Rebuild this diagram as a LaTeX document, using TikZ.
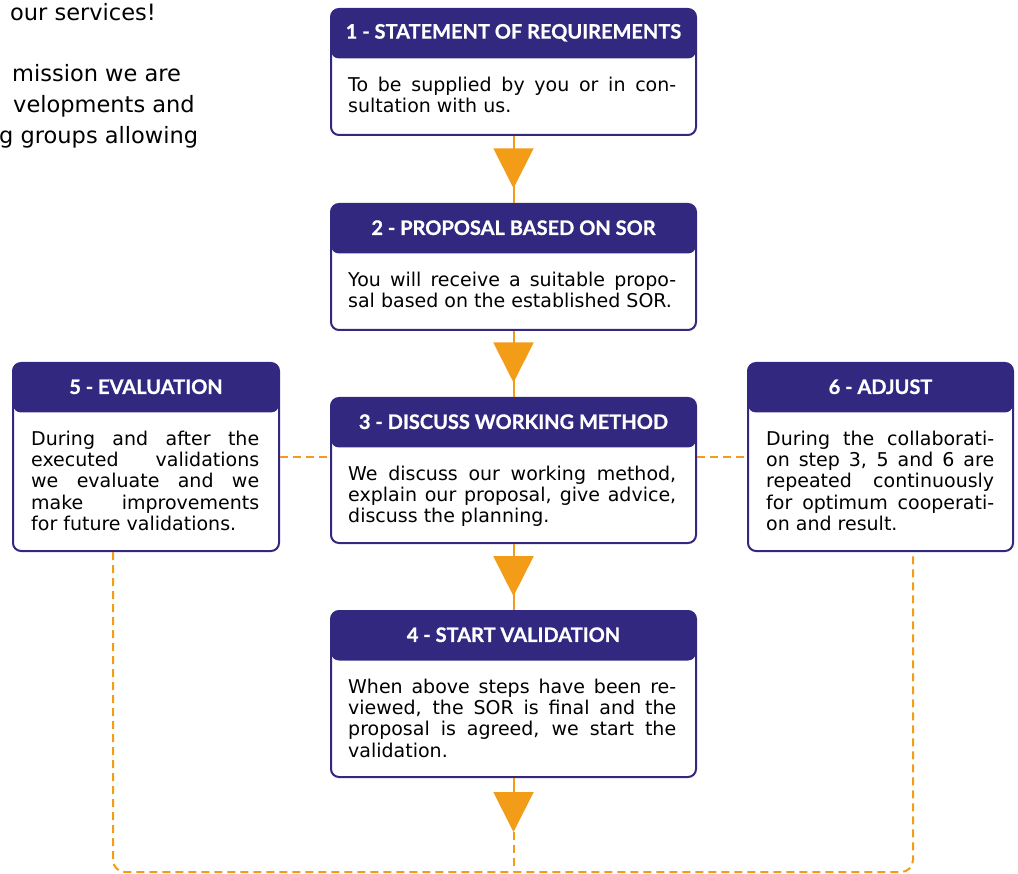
\documentclass[tikz,border=0pt]{standalone}
\usepackage{fontspec}
\setmainfont{DejaVu Sans}
\newfontfamily\hdfont{Lato}[BoldFeatures={FakeBold=0.8}]
\usetikzlibrary{arrows.meta,decorations.markings}
\definecolor{sorpurple}{RGB}{50,40,128}
\definecolor{sororange}{RGB}{243,156,23}
\begin{document}
\begin{tikzpicture}[x=1pt,y=-1pt,
	stepframe/.style={draw=sorpurple,line width=2pt,rounded corners=8pt,inner sep=0pt,anchor=north west,
		path picture={\fill[sorpurple] (path picture bounding box.north west) rectangle ([yshift=-49.5pt]path picture bounding box.north east);}},
	stephead/.style={text=white,inner sep=0pt,font=\hdfont\bfseries\fontsize{20}{22}\selectfont},
	steptext/.style={anchor=north west,inner sep=0pt,align=justify,font=\fontsize{19}{21.3}\selectfont},
	intro/.style={anchor=base west,inner sep=0pt,font=\fontsize{22.5}{26}\selectfont},
	flow/.style={draw=sororange,line width=2pt},
	midtri/.style={postaction={decorate},decoration={markings,mark=at position #1 with {\arrow{Triangle[width=40pt,length=40pt]}}}},
	loopline/.style={draw=sororange,line width=2pt,dash pattern=on 8pt off 5pt,rounded corners=12pt}]
	\useasboundingbox (0,0) rectangle (1018,874);
	% text cut off at the left
	\node[intro] (i1) at (10,21) {our services!};
	\node[intro] (i2) at (12,82) {mission we are};
	\node[intro] (i3) at (13,113) {velopments and};
	\node[intro] (i4) at (-1,144) {g groups allowing};
	% the six steps
	\node[stepframe,minimum width=365pt,minimum height=126pt] (s1) at (330,8) {};
	\node[stephead] (h1) at ([yshift=-24.75pt]s1.north) {1 - STATEMENT OF REQUIREMENTS};
	\node[steptext,text width=328pt] (b1) at ([xshift=18pt,yshift=-68.5pt]s1.north west)
		{To be supplied by you or in con-\linebreak sultation with us.};
	\node[stepframe,minimum width=365pt,minimum height=126pt] (s2) at (330,203) {};
	\node[stephead] (h2) at ([yshift=-24.75pt]s2.north) {2 - PROPOSAL BASED ON SOR};
	\node[steptext,text width=328pt] (b2) at ([xshift=18pt,yshift=-68.5pt]s2.north west)
		{You will receive a suitable propo-\linebreak sal based on the established SOR.};
	\node[stepframe,minimum width=365pt,minimum height=145pt] (s3) at (330,397) {};
	\node[stephead] (h3) at ([yshift=-24.75pt]s3.north) {3 - DISCUSS WORKING METHOD};
	\node[steptext,text width=328pt] (b3) at ([xshift=18pt,yshift=-68.5pt]s3.north west)
		{We discuss our working method,\linebreak explain our proposal, give advice,\linebreak discuss the planning.};
	\node[stepframe,minimum width=365pt,minimum height=166pt] (s4) at (330,610) {};
	\node[stephead] (h4) at ([yshift=-24.75pt]s4.north) {4 - START VALIDATION};
	\node[steptext,text width=328pt] (b4) at ([xshift=18pt,yshift=-68.5pt]s4.north west)
		{When above steps have been re-\linebreak viewed, the SOR is final and the\linebreak proposal is agreed, we start the\linebreak validation.};
	\node[stepframe,minimum width=266pt,minimum height=188pt] (s5) at (12,362) {};
	\node[stephead] (h5) at ([yshift=-24.75pt]s5.north) {5 - EVALUATION};
	\node[steptext,text width=228pt] (b5) at ([xshift=19pt,yshift=-68.5pt]s5.north west)
		{During and after the\linebreak executed validations\linebreak we evaluate and we\linebreak make improvements\linebreak for future validations.};
	\node[stepframe,minimum width=265pt,minimum height=188pt] (s6) at (747,362) {};
	\node[stephead] (h6) at ([yshift=-24.75pt]s6.north) {6 - ADJUST};
	\node[steptext,text width=228pt] (b6) at ([xshift=19pt,yshift=-68.5pt]s6.north west)
		{During the collaborati-\linebreak on step 3, 5 and 6 are\linebreak repeated continuously\linebreak for optimum cooperati-\linebreak on and result.};
	% arrows down
	\draw[flow,midtri=0.78] (s1.south) -- (s2.north);
	\draw[flow,midtri=0.78] (s2.south) -- (s3.north);
	\draw[flow,midtri=0.79] (s3.south) -- (s4.north);
	\coordinate (t4) at ([yshift=-54pt]s4.south);
	\draw[flow,-{Triangle[width=40pt,length=40pt]}] (s4.south) -- (t4);
	% dashed loop
	\coordinate (bl) at (113,872);
	\coordinate (br) at (913,872);
	\draw[loopline] (s5.east) -- (s5.east -| s3.west);
	\draw[loopline] (s6.west -| s3.east) -- (s6.west);
	\draw[loopline] (s5.south -| bl) -- (bl) -- (br) -- (s6.south -| br);
	\draw[loopline] (t4) -- (t4 |- bl);
\end{tikzpicture}
\end{document}
